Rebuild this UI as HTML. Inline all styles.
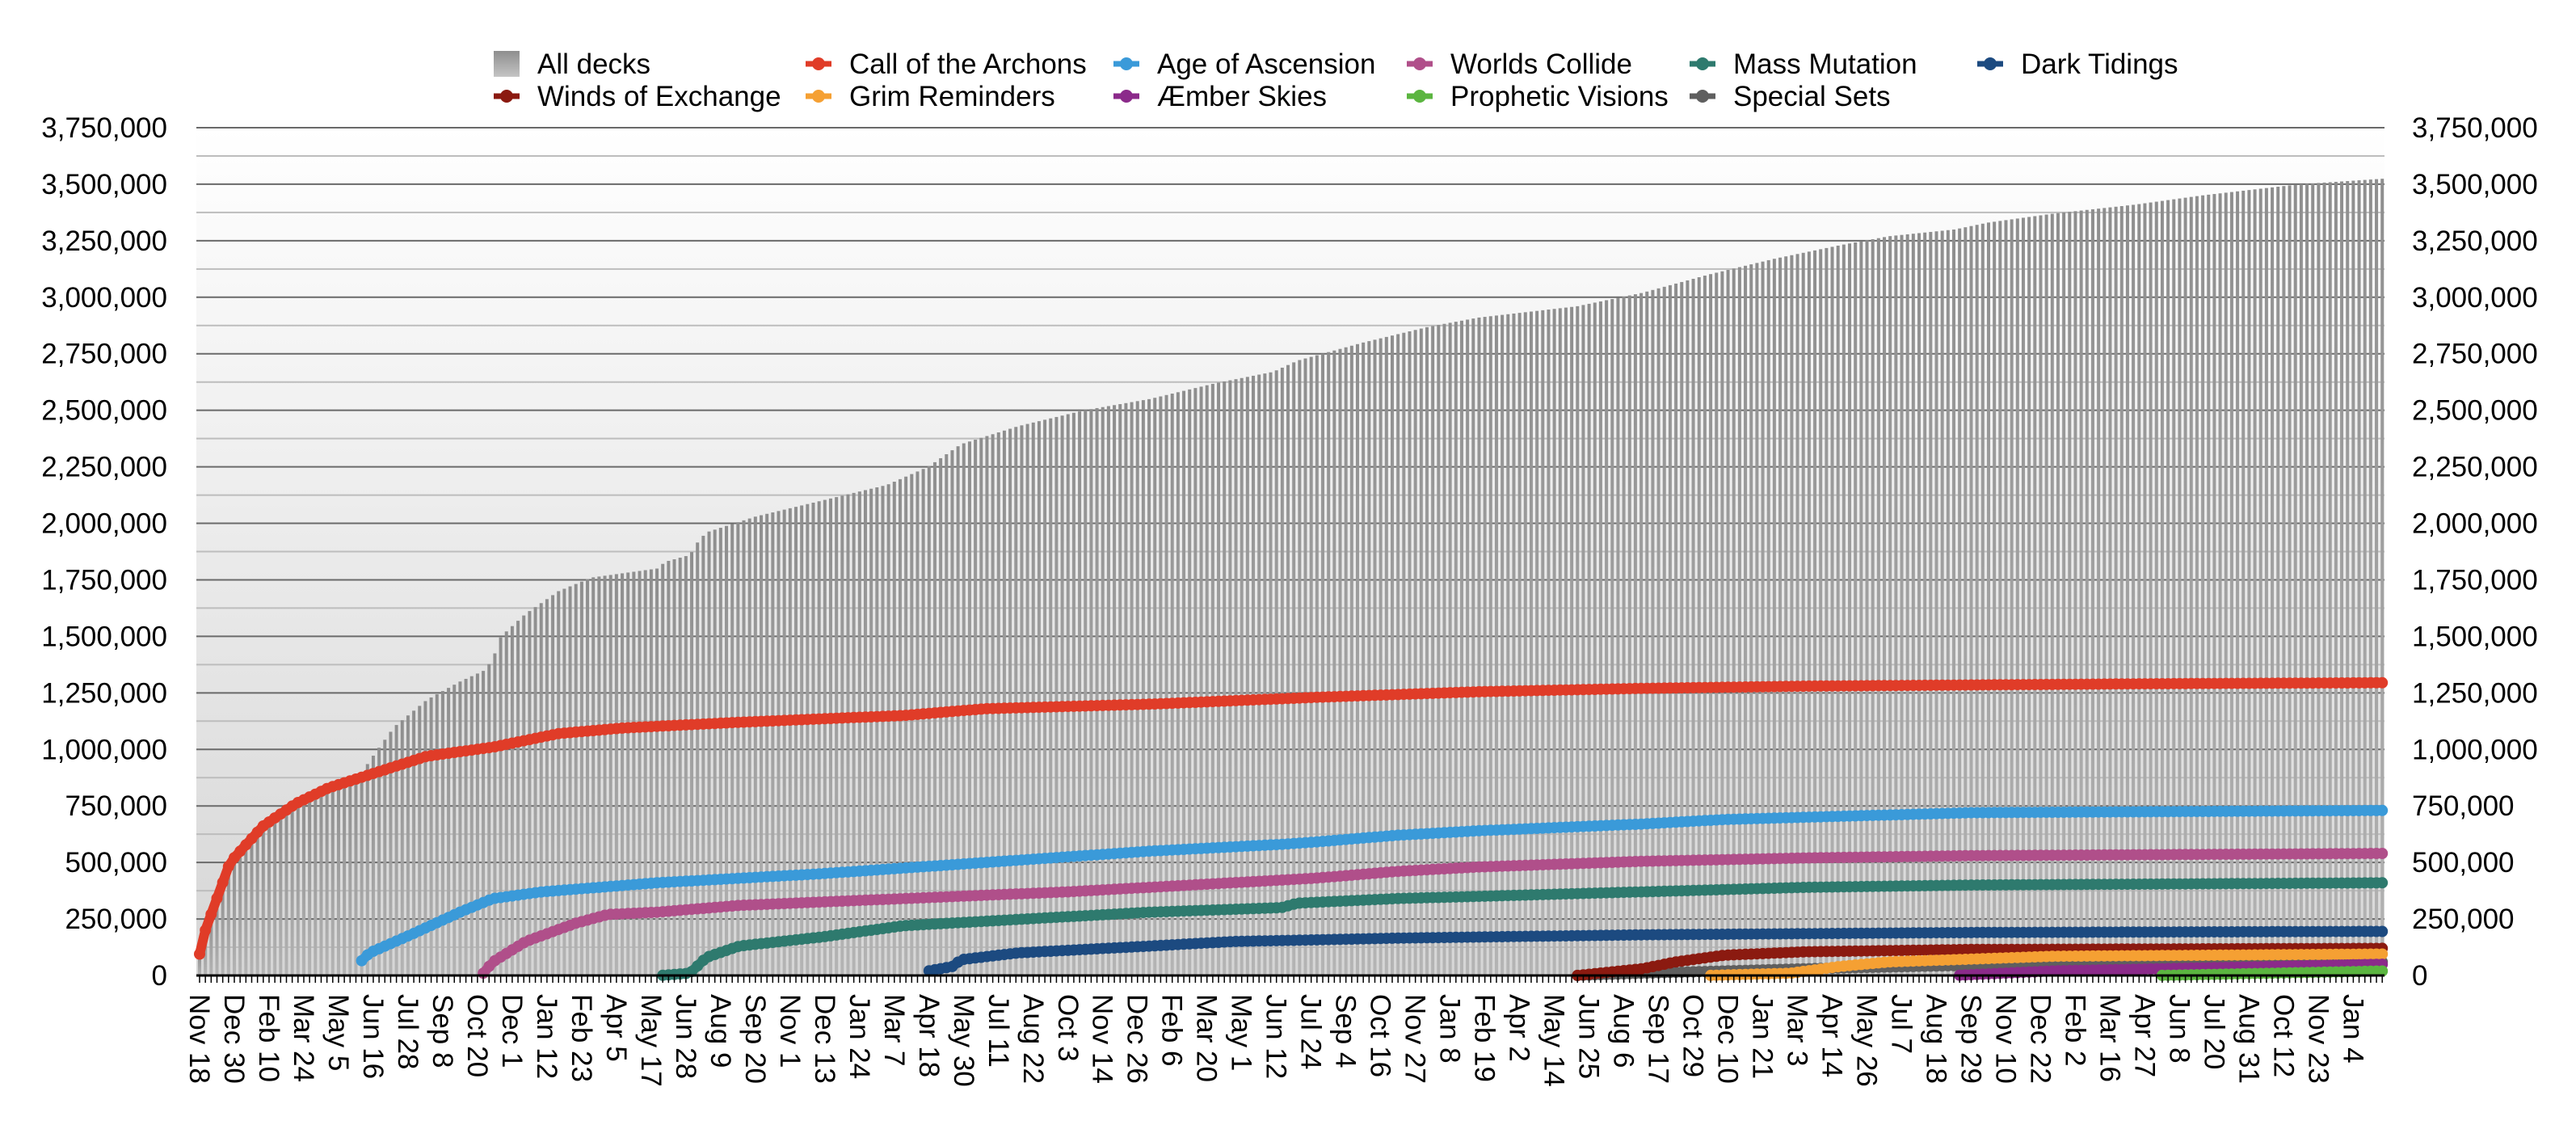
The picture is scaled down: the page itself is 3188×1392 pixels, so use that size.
<!DOCTYPE html>
<html><head><meta charset="utf-8"><style>
html,body{margin:0;padding:0;background:#fff;}
svg{display:block;font-family:"Liberation Sans",Arial,sans-serif;}
</style></head><body>
<svg id="s" width="3188" height="1392" viewBox="0 0 3188 1392" xmlns="http://www.w3.org/2000/svg">
<defs>
<linearGradient id="bg" x1="0" y1="0" x2="0" y2="1"><stop offset="0" stop-color="#ffffff"/><stop offset="1" stop-color="#d6d6d6"/></linearGradient>
<linearGradient id="bar" x1="0" y1="0" x2="0" y2="1"><stop offset="0" stop-color="#8e8e8e"/><stop offset="1" stop-color="#b4b4b4"/></linearGradient>
<linearGradient id="leg" x1="0" y1="0" x2="0" y2="1"><stop offset="0" stop-color="#8e8e8e"/><stop offset="1" stop-color="#c4c4c4"/></linearGradient>
</defs>
<rect x="243" y="158" width="2708" height="1049" fill="url(#bg)"/>
<g id="grid"></g><g id="bars"></g><g id="lines"></g><g id="axis"></g><g id="labels"></g><g id="legend"></g>
</svg>
<script>
const NS="http://www.w3.org/2000/svg";
function el(p,t,a,txt){const e=document.createElementNS(NS,t);for(const k in a)e.setAttribute(k,a[k]);if(txt!==undefined)e.textContent=txt;p.appendChild(e);return e;}
const L=243,R=2951,T=158,B=1207,K=2.033;
const yv=v=>B-v*(B-T)/3.75;
const g=id=>document.getElementById(id);
for(let i=0;i<=30;i++){const v=i*0.125,y=yv(v);if(i%2==0){el(g('grid'),'line',{x1:L,x2:R,y1:y,y2:y,stroke:'#6a6a6a','stroke-width':2});}
else el(g('grid'),'line',{x1:L,x2:R,y1:y,y2:y,stroke:'#bdbdbd','stroke-width':2});}
for(let i=0;i<=15;i++){const v=i*250000,y=yv(v/1e6),s=v.toLocaleString('en-US');
el(g('labels'),'text',{x:207,y:y+12,'text-anchor':'end','font-size':35},s);
el(g('labels'),'text',{x:2985,y:y+12,'text-anchor':'start','font-size':35},s);}
function interp(pts,xo){if(xo<pts[0][0])return null;for(let i=1;i<pts.length;i++){if(xo<=pts[i][0]){const a=pts[i-1],b=pts[i];return a[1]+(b[1]-a[1])*(xo-a[0])/(b[0]-a[0]);}}return pts[pts.length-1][1];}
const pitch=7.165,N=378;
const bx=i=>247+i*pitch;
const all=[[121,0.08],[125,0.2],[140,0.5],[160,0.66],[180,0.76],[200,0.83],[218,0.87],[225,0.95],[240,1.1],[260,1.22],[280,1.3],[295,1.35],[300,1.4],[305,1.5],[320,1.6],[340,1.7],[360,1.76],[380,1.78],[400,1.8],[405,1.83],[420,1.86],[425,1.92],[430,1.96],[460,2.03],[500,2.1],[540,2.17],[565,2.25],[575,2.3],[585,2.35],[620,2.43],[660,2.5],[700,2.55],[740,2.62],[775,2.67],[790,2.72],[830,2.8],[870,2.87],[900,2.91],[960,2.96],[1000,3.02],[1040,3.1],[1080,3.17],[1120,3.23],[1150,3.27],[1190,3.3],[1210,3.33],[1250,3.37],[1300,3.41],[1340,3.45],[1400,3.5],[1452,3.525]];
for(let i=0;i<N;i++){const x=bx(i);if(x>R)break;const v=interp(all,x/K);if(v==null)continue;el(g('bars'),'rect',{x:x-2,y:yv(v),width:4,height:B-yv(v),fill:'url(#bar)'});}
const series=[
['#5f5f5f',[[960,0],[1000,0.01],[1100,0.03],[1200,0.045],[1452,0.06]]],
['#8b1a10',[[960,0],[1000,0.03],[1020,0.06],[1050,0.09],[1100,0.105],[1200,0.115],[1452,0.12]]],
['#f5a033',[[1040,0],[1090,0.01],[1120,0.04],[1150,0.06],[1250,0.085],[1452,0.095]]],
['#8b2a8a',[[1190,0],[1250,0.02],[1452,0.05]]],
['#5bb540',[[1315,0],[1452,0.02]]],
['#1c4a80',[[565,0.02],[580,0.04],[585,0.07],[620,0.1],[700,0.13],[750,0.15],[850,0.165],[1000,0.18],[1200,0.19],[1452,0.195]]],
['#2e7a6e',[[402,0],[420,0.01],[430,0.08],[450,0.13],[500,0.17],[550,0.22],[700,0.28],[780,0.3],[790,0.32],[850,0.34],[1000,0.37],[1100,0.39],[1200,0.40],[1452,0.41]]],
['#b04f8a',[[293,0],[300,0.06],[320,0.15],[350,0.23],[370,0.27],[400,0.28],[450,0.31],[550,0.34],[650,0.37],[750,0.41],[800,0.43],[850,0.46],[900,0.48],[1000,0.505],[1100,0.52],[1200,0.53],[1452,0.54]]],
['#3a9ad9',[[218,0.05],[225,0.1],[250,0.18],[280,0.28],[300,0.34],[330,0.37],[400,0.41],[500,0.45],[600,0.5],[640,0.52],[700,0.55],[780,0.58],[800,0.59],[850,0.62],[900,0.64],[1000,0.67],[1050,0.69],[1100,0.70],[1200,0.72],[1452,0.73]]],
['#e03c28',[[121,0.08],[125,0.2],[140,0.5],[160,0.66],[180,0.76],[200,0.83],[230,0.9],[260,0.97],[300,1.01],[340,1.07],[380,1.095],[450,1.12],[550,1.15],[600,1.18],[700,1.2],[800,1.23],[900,1.255],[1000,1.27],[1100,1.28],[1300,1.29],[1452,1.295]]]];
for(const [c,p] of series){let pts=[];const grp=el(g('lines'),'g',{});for(let i=0;i<N;i++){const x=bx(i);if(x>R)break;const v=interp(p,x/K);if(v==null)continue;pts.push(x.toFixed(1)+','+yv(v).toFixed(1));}
el(grp,'polyline',{points:pts.join(' '),fill:'none',stroke:c,'stroke-width':12,'stroke-linejoin':'round','stroke-linecap':'round'});
pts.forEach(s=>{const [x,y]=s.split(',');el(grp,'circle',{cx:x,cy:y,r:7,fill:c});});}
el(g('axis'),'line',{x1:L,x2:R,y1:B,y2:B,stroke:'#000','stroke-width':3});
for(let i=0;i<N;i++){const x=bx(i);if(x>R)break;el(g('axis'),'line',{x1:x,x2:x,y1:B,y2:B+9,stroke:'#000','stroke-width':1.5});}
const xl="Nov 18,Dec 30,Feb 10,Mar 24,May 5,Jun 16,Jul 28,Sep 8,Oct 20,Dec 1,Jan 12,Feb 23,Apr 5,May 17,Jun 28,Aug 9,Sep 20,Nov 1,Dec 13,Jan 24,Mar 7,Apr 18,May 30,Jul 11,Aug 22,Oct 3,Nov 14,Dec 26,Feb 6,Mar 20,May 1,Jun 12,Jul 24,Sep 4,Oct 16,Nov 27,Jan 8,Feb 19,Apr 2,May 14,Jun 25,Aug 6,Sep 17,Oct 29,Dec 10,Jan 21,Mar 3,Apr 14,May 26,Jul 7,Aug 18,Sep 29,Nov 10,Dec 22,Feb 2,Mar 16,Apr 27,Jun 8,Jul 20,Aug 31,Oct 12,Nov 23,Jan 4".split(',');
xl.forEach((t,i)=>{const x=bx(i*6)-12,y=1230;el(g('labels'),'text',{x:0,y:0,transform:`translate(${x},${y}) rotate(90)`,'font-size':35},t);});
const cols=[627,1013,1394,1757,2107,2463];
const leg=[['All decks',null],['Call of the Archons','#e03c28'],['Age of Ascension','#3a9ad9'],['Worlds Collide','#b04f8a'],['Mass Mutation','#2e7a6e'],['Dark Tidings','#1c4a80'],
['Winds of Exchange','#8b1a10'],['Grim Reminders','#f5a033'],['Æmber Skies','#8b2a8a'],['Prophetic Visions','#5bb540'],['Special Sets','#5f5f5f']];
leg.forEach((l,i)=>{const r=i<6?0:1,c=i<6?i:i-6,cx=cols[c],cy=r?119:79;
if(l[1]==null)el(g('legend'),'rect',{x:cx-16,y:cy-16,width:32,height:32,fill:'url(#leg)'});
else{el(g('legend'),'line',{x1:cx-16,x2:cx+16,y1:cy,y2:cy,stroke:l[1],'stroke-width':7});el(g('legend'),'circle',{cx:cx,cy:cy,r:8,fill:l[1]});}
el(g('legend'),'text',{x:cx+38,y:cy+12,'font-size':35},l[0]);});
</script>
</body></html>
